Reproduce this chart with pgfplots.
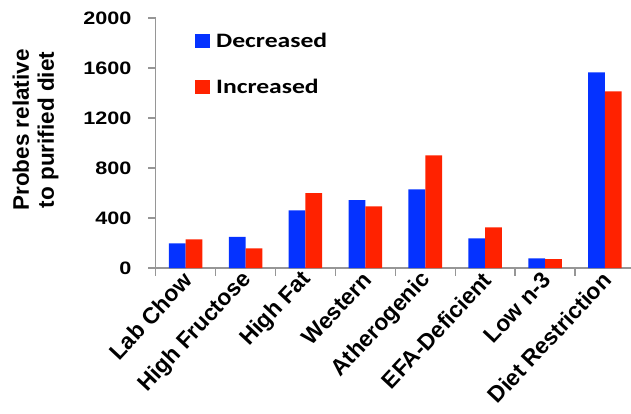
\documentclass[border=0pt]{standalone}
\usepackage{fontspec}
\usepackage{pgfplots}
\usepackage{pgfplotstable}
\pgfplotsset{compat=1.18}
\setmainfont{Liberation Sans}
\newfontfamily\tickfont{Liberation Sans}[FakeStretch=1.2]
\newfontfamily\legendfont{Carlito}[FakeStretch=1.25]

\definecolor{decblue}{RGB}{5,50,255}
\definecolor{incred}{RGB}{255,34,0}
\definecolor{axisgray}{RGB}{150,150,150}

% Number of probes changed relative to the purified diet
\pgfplotstableread{
x   dec   inc
0.5 198   230
1.5 250   158
2.5 461   600
3.5 544   494
4.5 630   902
5.5 238   326
6.5 78    72
7.5 1566  1414
}\dietdata

\begin{document}
\begin{tikzpicture}
\path[use as bounding box] (-155.7pt,-145pt) rectangle (475.3pt,268pt);
\begin{axis}[
  at={(0pt,0pt)}, anchor=south west,
  scale only axis, width=475.3pt, height=250pt,
  ybar,
  xmin=0, xmax=7.935, ymin=0, ymax=2000,
  axis x line=bottom, axis y line=left,
  axis line style={axisgray, line width=1.6pt, -},
  tick align=outside,
  major tick length=7.5pt,
  tick style={axisgray, line width=1.4pt},
  xtick={0,1,...,7}, xticklabels={},
  extra x ticks={0.5,1.5,...,7.5},
  extra x tick labels={Lab Chow,High Fructose,High Fat,Western,Atherogenic,EFA-Deficient,Low n-3,Diet Restriction},
  extra x tick style={major tick length=0pt,
    xticklabel style={yshift=-8pt, xshift=2pt, rotate=47, anchor=east, inner sep=0pt,
      font=\bfseries\fontsize{22.8}{23}\selectfont}},
  ytick={0,400,...,2000}, yticklabels={0,400,800,1200,1600,2000},
  yticklabel style={inner sep=0pt, xshift=-16.5pt, font=\tickfont\bfseries\fontsize{18}{18}\selectfont},
  ylabel={Probes relative\\to purified diet},
  ylabel style={align=center, at={(axis description cs:-0.2529,0.552)}, anchor=center,
    font=\bfseries\fontsize{22.5}{25}\selectfont},
  legend style={draw=none, fill=none, at={(axis description cs:0.0827,0.94)}, anchor=north west,
    font=\legendfont\bfseries\fontsize{20.5}{22}\selectfont, inner sep=0pt, row sep=30pt,
    column sep=6pt, nodes={inner sep=0pt}},
  legend cell align=left,
  legend image code/.code={\fill[#1] (0pt,-7pt) rectangle (15pt,7pt);},
]
\addplot[fill=decblue, draw=none, bar width=0.28, bar shift=-0.14] table[x=x, y=dec] {\dietdata};
\addplot[fill=incred, draw=none, bar width=0.28, bar shift=0.14] table[x=x, y=inc] {\dietdata};
\legend{Decreased, Increased}
\end{axis}
\end{tikzpicture}
\end{document}
